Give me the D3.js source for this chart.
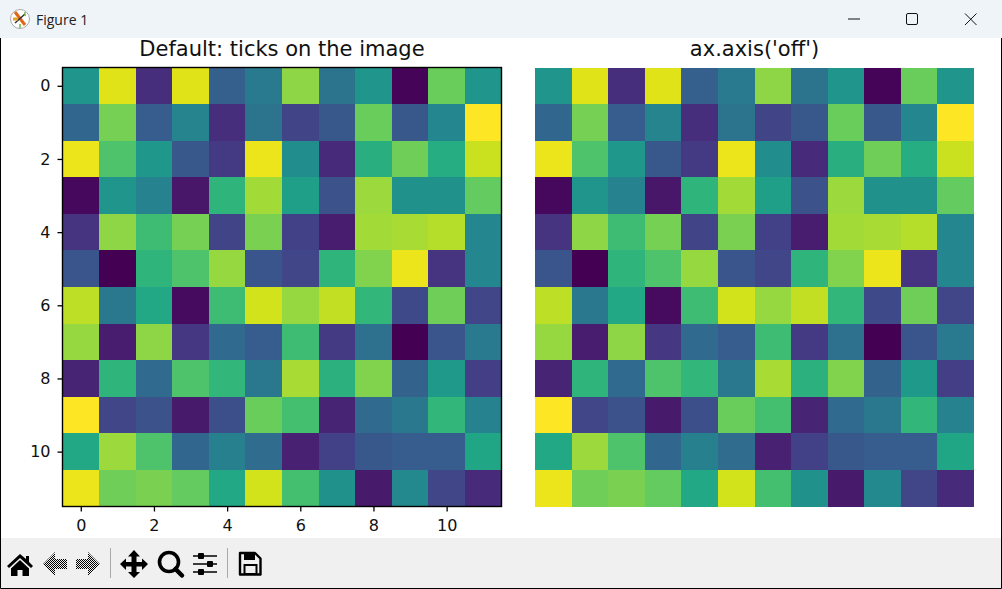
<!DOCTYPE html>
<html><head><meta charset="utf-8">
<script src="https://cdn.jsdelivr.net/npm/d3@7"></script>
<style>html,body{margin:0;padding:0;background:#fff;overflow:hidden}svg{display:block}</style>
</head><body><svg id="c" width="1002" height="589"></svg>
<script>
const windowTitle = "Figure 1";
const titles = ["Default: ticks on the image", "ax.axis('off')"];
const tickValues = [0, 2, 4, 6, 8, 10];
const row0  = [0.52,0.95,0.13,0.95,0.30,0.41,0.83,0.38,0.52,0.01,0.77,0.52];
const row1  = [0.33,0.79,0.29,0.45,0.13,0.38,0.20,0.27,0.77,0.27,0.46,1.00];
const row2  = [0.97,0.72,0.53,0.27,0.17,0.97,0.49,0.12,0.63,0.78,0.62,0.92];
const row3  = [0.02,0.52,0.44,0.06,0.65,0.86,0.56,0.25,0.85,0.50,0.50,0.76];
const row4  = [0.15,0.83,0.69,0.79,0.20,0.80,0.19,0.08,0.86,0.87,0.89,0.46];
const row5  = [0.26,0.00,0.65,0.72,0.84,0.26,0.21,0.65,0.81,0.97,0.15,0.46];
const row6  = [0.90,0.40,0.60,0.03,0.69,0.93,0.84,0.91,0.66,0.22,0.78,0.21];
const row7  = [0.84,0.08,0.83,0.16,0.34,0.29,0.69,0.17,0.37,0.00,0.26,0.41];
const row8  = [0.10,0.65,0.34,0.72,0.66,0.40,0.87,0.64,0.81,0.31,0.54,0.18];
const row9  = [1.00,0.21,0.25,0.07,0.24,0.77,0.70,0.10,0.34,0.40,0.66,0.44];
const row10 = [0.60,0.85,0.72,0.33,0.43,0.35,0.09,0.19,0.27,0.29,0.29,0.59];
const row11 = [0.97,0.78,0.80,0.76,0.60,0.93,0.70,0.50,0.07,0.47,0.21,0.12];
const grid = [row0,row1,row2,row3,row4,row5,row6,row7,row8,row9,row10,row11];

const svg = d3.select("#c");
const font = "'DejaVu Sans',sans-serif";
const color = d3.scaleSequential(d3.interpolateViridis).domain([0,1]);

// window chrome
svg.append("rect").attr("width",1002).attr("height",589).attr("fill","#fff");
svg.append("rect").attr("width",1002).attr("height",38).attr("fill","#eff4f9");
svg.append("rect").attr("y",538).attr("width",1002).attr("height",50).attr("fill","#f0f0f0");
svg.append("path").attr("d","M0.5 38V588.5H1001.5V38").attr("fill","none").attr("stroke","#000");
const ic = svg.append("g").attr("transform","translate(20,19)");
ic.append("circle").attr("r",9.5).attr("fill","#fff").attr("stroke","#aaa");
ic.append("path").attr("d","M-5-7L5 6").attr("stroke","#e0661a").attr("stroke-width",3);
ic.append("path").attr("d","M5-5L-5 4").attr("stroke","#333").attr("stroke-width",1.5);
ic.append("path").attr("d","M-7 0L-2 0").attr("stroke","#e8a020").attr("stroke-width",3);
ic.append("path").attr("d","M0 5V9M5-7V-3").attr("stroke","#7ab648").attr("stroke-width",1.5);
svg.append("text").attr("x",36).attr("y",25).text(windowTitle)
  .attr("font-family","'Open Sans','Noto Sans',sans-serif").attr("font-size",14).attr("fill","#222");
svg.append("path").attr("d","M848 19H860").attr("stroke","#111").attr("stroke-width",1);
svg.append("rect").attr("x",906.5).attr("y",13.5).attr("width",11).attr("height",11).attr("rx",1.5).attr("fill","none").attr("stroke","#111");
svg.append("path").attr("d","M965 13.5L976.5 25M976.5 13.5L965 25").attr("stroke","#111");

// panels
const top_ = 67.5, side = 439;
function panel(x0, title, withAxes){
  const x = d3.scaleLinear().domain([-0.5,11.5]).range([x0,x0+side]);
  const y = d3.scaleLinear().domain([-0.5,11.5]).range([top_,top_+side]);
  const g = svg.append("g");
  grid.forEach((row,r)=>{
    g.selectAll(null).data(row).join("rect")
      .attr("x",(d,c)=>Math.round(x(c-0.5)))
      .attr("y",Math.round(y(r-0.5)))
      .attr("width",(d,c)=>Math.round(x(c+0.5))-Math.round(x(c-0.5)))
      .attr("height",Math.round(y(r+0.5))-Math.round(y(r-0.5)))
      .attr("fill",d=>color(d)).attr("shape-rendering","crispEdges");
  });
  svg.append("text").attr("x",x0+side/2).attr("y",56).attr("text-anchor","middle")
    .attr("font-family",font).attr("font-size",21).attr("fill","#111").text(title);
  if(!withAxes) return;
  const ax = d3.axisBottom(x).tickValues(tickValues).tickSize(5).tickPadding(8).tickFormat(d3.format("d"));
  const ay = d3.axisLeft(y).tickValues(tickValues).tickSize(5).tickPadding(7).tickFormat(d3.format("d"));
  const gx = svg.append("g").attr("transform",`translate(0,${top_+side})`).call(ax);
  const gy = svg.append("g").attr("transform",`translate(${x0},0)`).call(ay);
  [gx,gy].forEach(a=>{
    a.select(".domain").remove();
    a.selectAll("line").attr("stroke","#000").attr("stroke-width",1.3);
    a.selectAll("text").attr("font-family",font).attr("font-size",16).attr("fill","#111");
  });
  svg.append("rect").attr("x",x0).attr("y",top_).attr("width",side).attr("height",side)
    .attr("fill","none").attr("stroke","#000").attr("stroke-width",1.4);
}
panel(62.5, titles[0], true);
panel(535, titles[1], false);

// toolbar icons
const tb = svg.append("g").attr("fill","#000");
tb.append("path").attr("d","M20 554L7 566L9 568L20 558L31 568L33 566L29 562V556H26V559ZM11 568.5V576H17.5V570H22.5V576H29V568.5L20 560Z");
const dither = svg.append("defs").append("pattern").attr("id","dp").attr("width",2).attr("height",2).attr("patternUnits","userSpaceOnUse");
dither.append("rect").attr("width",1).attr("height",1).attr("fill","#000");
dither.append("rect").attr("x",1).attr("y",1).attr("width",1).attr("height",1).attr("fill","#000");
svg.append("path").attr("d","M43 564L55 552V559H67V569H55V576Z").attr("fill","url(#dp)");
svg.append("path").attr("d","M100 564L88 552V559H76V569H88V576Z").attr("fill","url(#dp)");
svg.append("path").attr("d","M110.5 548V578M227.5 548V578").attr("stroke","#aaa").attr("fill","none");
tb.append("path").attr("d","M134 550L140 556.5H136.5V562H142V558.5L148 564L142 570V566.5H136.5V572H140L134 578L128 572H131.5V566.5H126V570L120 564L126 558.5V562H131.5V556.5H128Z");
svg.append("circle").attr("cx",169).attr("cy",562).attr("r",9.5).attr("fill","none").attr("stroke","#000").attr("stroke-width",3.6);
svg.append("path").attr("d","M175.5 569L182 575.5").attr("stroke","#000").attr("stroke-width",4.5).attr("stroke-linecap","round");
svg.append("path").attr("d","M193 556H217M193 564H217M193 572H217").attr("stroke","#000").attr("stroke-width",1.6);
tb.append("rect").attr("x",198).attr("y",553).attr("width",6).attr("height",6).attr("rx",1);
tb.append("rect").attr("x",207).attr("y",561).attr("width",6).attr("height",6).attr("rx",1);
tb.append("rect").attr("x",198).attr("y",569).attr("width",6).attr("height",6).attr("rx",1);
svg.append("path").attr("d","M240 553H255L260.5 558.5V574.5H240Z").attr("fill","none").attr("stroke","#000").attr("stroke-width",2.4).attr("stroke-linejoin","round");
tb.append("rect").attr("x",244).attr("y",553).attr("width",11).attr("height",7);
svg.append("rect").attr("x",244.5).attr("y",565).attr("width",12).attr("height",9).attr("fill","none").attr("stroke","#000").attr("stroke-width",2);
</script></body></html>
